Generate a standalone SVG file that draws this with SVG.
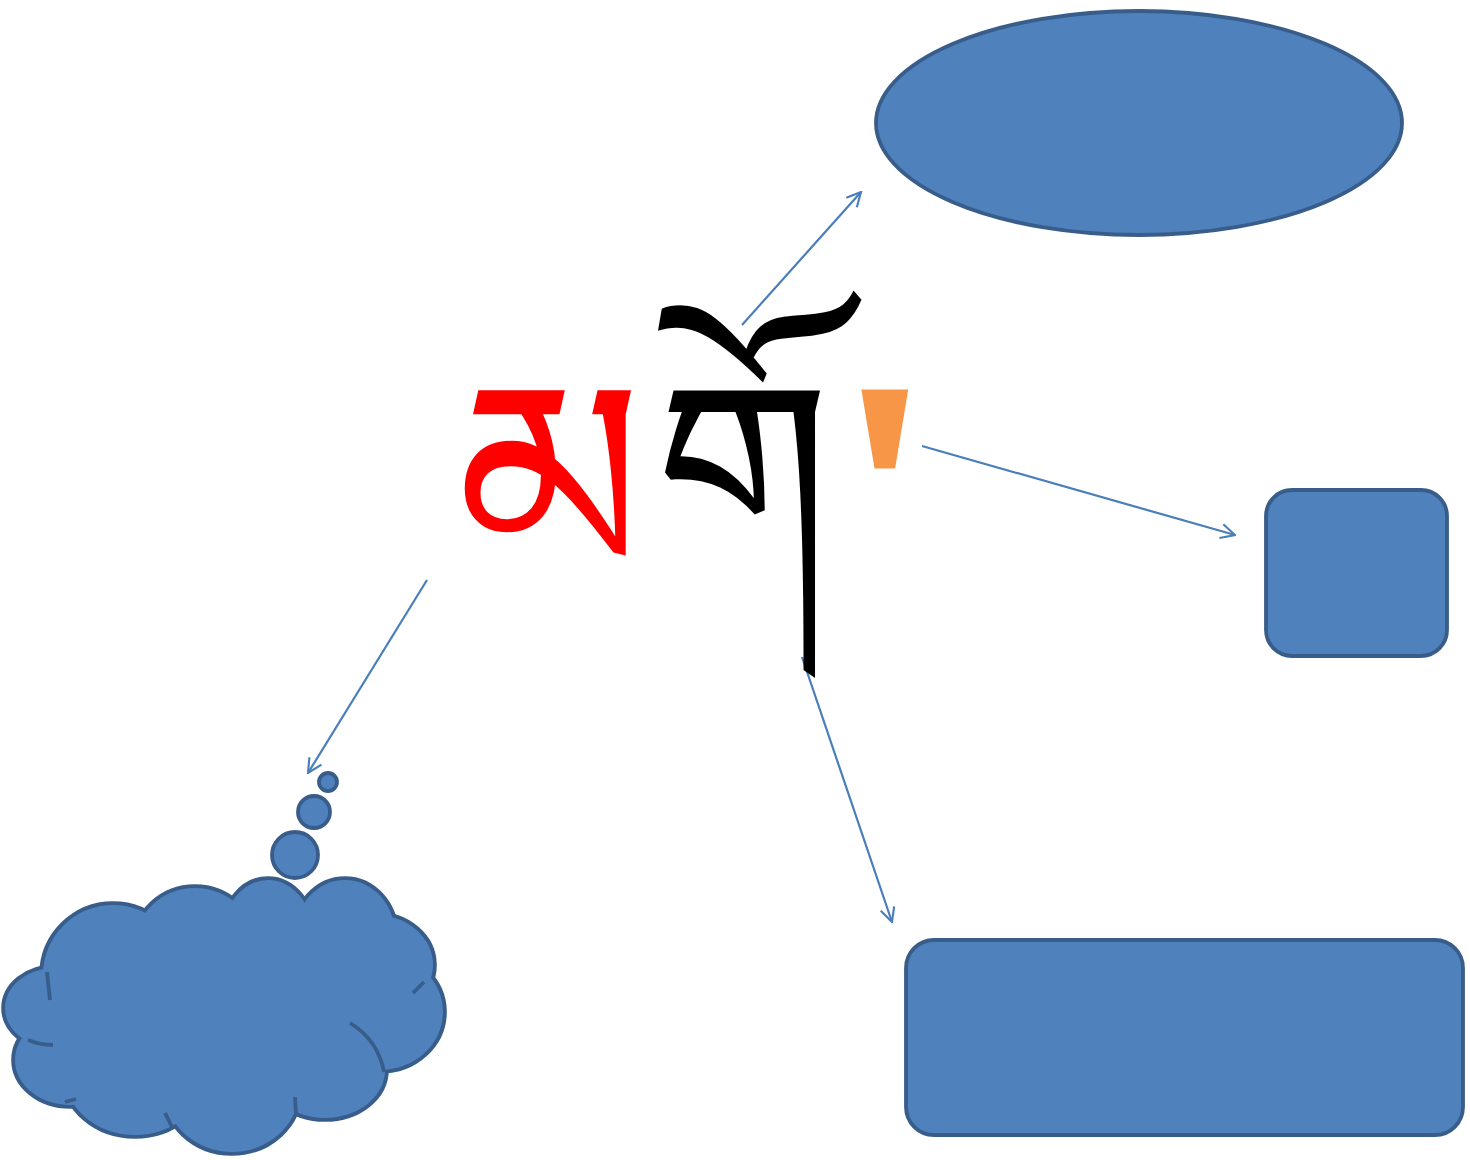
<svg xmlns="http://www.w3.org/2000/svg" width="1470" height="1160" viewBox="0 0 1470 1160">
<style>
.shape{fill:#4F81BD;stroke:#385D8A;stroke-width:3.8}
.cl{fill:#4F81BD;stroke:#385D8A;stroke-width:7.6}
.cf{fill:#4F81BD;stroke:none}
.tick{fill:none;stroke:#385D8A;stroke-width:3.8}
.conn{fill:none;stroke:#4A7EBB;stroke-width:2.2;marker-end:url(#arr)}
.tib{font-family:"Noto Serif Tibetan","Jomolhari","Microsoft Himalaya","DejaVu Sans","Noto Sans",sans-serif}
</style>
<defs>
<marker id="arr" viewBox="0 0 12 12" refX="11" refY="6" markerWidth="17" markerHeight="17" markerUnits="userSpaceOnUse" orient="auto">
<path d="M1,1 L11,6 L1,11" fill="none" stroke="#4A7EBB" stroke-width="1.5"/>
</marker>
</defs>
<rect width="1470" height="1160" fill="#fff"/>
<g id="connectors">
<line class="conn" x1="742" y1="325" x2="861" y2="192"/>
<line class="conn" x1="922" y1="446" x2="1235" y2="535"/>
<line class="conn" x1="802" y1="657" x2="892" y2="922"/>
<line class="conn" x1="427" y1="580" x2="308" y2="773"/>
</g>
<g id="ellipse-node"><ellipse class="shape" cx="1139" cy="123" rx="263" ry="112"/></g>
<g id="square-node"><rect class="shape" x="1266" y="490" width="181" height="166" rx="26"/></g>
<g id="rect-node"><rect class="shape" x="906" y="940" width="557" height="195" rx="28"/></g>
<g id="cloud-node">
<g class="cl">
<ellipse cx="113" cy="975" rx="70" ry="70"/>
<ellipse cx="195" cy="945" rx="60" ry="57"/>
<ellipse cx="268" cy="935" rx="45" ry="55"/>
<ellipse cx="345" cy="935" rx="50" ry="55"/>
<ellipse cx="375" cy="965" rx="58" ry="50"/>
<ellipse cx="380" cy="1012" rx="63" ry="58"/>
<ellipse cx="325" cy="1070" rx="60" ry="48"/>
<ellipse cx="232" cy="1090" rx="67" ry="62"/>
<ellipse cx="135" cy="1075" rx="70" ry="60"/>
<ellipse cx="70" cy="1060" rx="55" ry="45"/>
<ellipse cx="55" cy="1008" rx="50" ry="40"/>
</g>
<g class="cf">
<ellipse cx="113" cy="975" rx="70" ry="70"/>
<ellipse cx="195" cy="945" rx="60" ry="57"/>
<ellipse cx="268" cy="935" rx="45" ry="55"/>
<ellipse cx="345" cy="935" rx="50" ry="55"/>
<ellipse cx="375" cy="965" rx="58" ry="50"/>
<ellipse cx="380" cy="1012" rx="63" ry="58"/>
<ellipse cx="325" cy="1070" rx="60" ry="48"/>
<ellipse cx="232" cy="1090" rx="67" ry="62"/>
<ellipse cx="135" cy="1075" rx="70" ry="60"/>
<ellipse cx="70" cy="1060" rx="55" ry="45"/>
<ellipse cx="55" cy="1008" rx="50" ry="40"/>
<ellipse cx="230" cy="1010" rx="150" ry="90"/>
</g>
<path class="tick" d="M350,1023 Q378,1040 384,1072"/>
<path class="tick" d="M28,1040 Q40,1045 53,1045"/>
<path class="tick" d="M47,972 L50,1000"/>
<path class="tick" d="M413,993 L424,982"/>
<path class="tick" d="M65,1102 L76,1099"/>
<path class="tick" d="M165,1113 L172,1127"/>
<path class="tick" d="M295,1097 L296,1115"/>
<circle class="shape" cx="295" cy="855" r="23"/>
<circle class="shape" cx="314" cy="812" r="16"/>
<circle class="shape" cx="328" cy="782" r="9"/>
</g>
<g id="title">
<text class="tib" font-size="280" fill="#FF0000" transform="translate(456,580) scale(0.95,1)">མ</text>
<text class="tib" font-size="250" fill="#000000" x="655" y="560">གོ</text>
<text class="tib" font-size="250" fill="#F79646" transform="translate(852,864) scale(1.25,2.8)">་</text>
</g>
</svg>
